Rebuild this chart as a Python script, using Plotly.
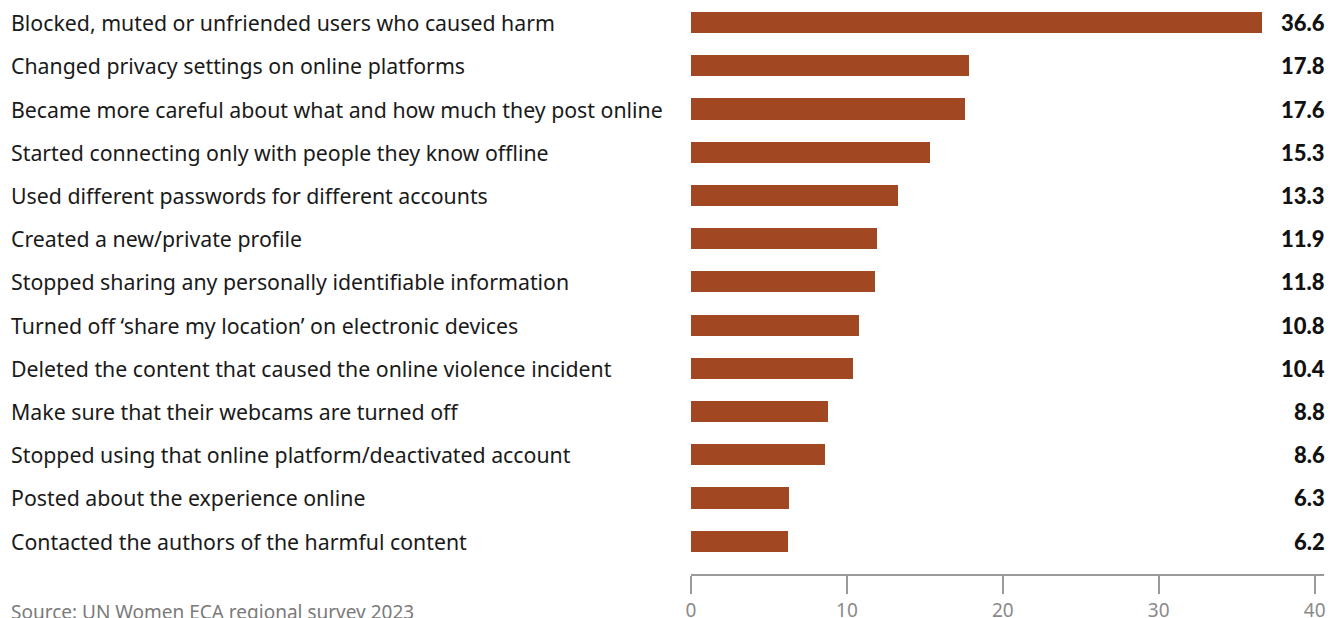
import plotly.graph_objects as go

# Actions taken after experiencing online violence (% of respondents)
actions = [
    "Blocked, muted or unfriended users who caused harm",
    "Changed privacy settings on online platforms",
    "Became more careful about what and how much they post online",
    "Started connecting only with people they know offline",
    "Used different passwords for different accounts",
    "Created a new/private profile",
    "Stopped sharing any personally identifiable information",
    "Turned off \u2018share my location\u2019 on electronic devices",
    "Deleted the content that caused the online violence incident",
    "Make sure that their webcams are turned off",
    "Stopped using that online platform/deactivated account",
    "Posted about the experience online",
    "Contacted the authors of the harmful content",
]
shares = [36.6, 17.8, 17.6, 15.3, 13.3, 11.9, 11.8, 10.8, 10.4, 8.8, 8.6, 6.3, 6.2]
x_ticks = [0, 10, 20, 30, 40]
source_note = "Source: UN Women ECA regional survey 2023"

BAR_COLOR = "#A14823"
LABEL_FONT = "Noto Sans"
positions = list(range(len(actions)))

fig = go.Figure(
    go.Bar(
        x=shares,
        y=positions,
        orientation="h",
        marker=dict(color=BAR_COLOR, line=dict(width=0)),
        width=0.49,
        hoverinfo="skip",
    )
)

left_px, right_px = 691, 1324
plot_w = right_px - left_px

annotations = []
for pos, label, val in zip(positions, actions, shares):
    annotations.append(dict(
        x=(9 - left_px) / plot_w, xref="paper", xanchor="left",
        y=pos, yref="y", yanchor="middle",
        text=label, showarrow=False,
        font=dict(family=LABEL_FONT, size=21.3, color="#1a1a1a"),
    ))
    annotations.append(dict(
        x=(1327 - left_px) / plot_w, xref="paper", xanchor="right",
        y=pos, yref="y", yanchor="middle",
        text=f"{val:.1f}", showarrow=False,
        font=dict(family="Lato", size=22, color="#111111", weight=900),
    ))

annotations.append(dict(
    x=(9 - left_px) / plot_w, xref="paper", xanchor="left",
    y=0, yref="paper", yanchor="top", yshift=-23,
    text=source_note, showarrow=False,
    font=dict(family=LABEL_FONT, size=19, color="#7a7a7a"),
))

fig.update_layout(
    width=1343, height=618,
    margin=dict(l=left_px, r=1343 - right_px, t=1, b=44, autoexpand=False),
    paper_bgcolor="white", plot_bgcolor="white",
    showlegend=False,
    bargap=0,
    annotations=annotations,
    xaxis=dict(
        range=[0, 40.6], tickvals=x_ticks,
        showgrid=False, zeroline=False,
        showline=True, linecolor="#9a9a9a", linewidth=1.5,
        ticks="outside", ticklen=18, tickwidth=1.5, tickcolor="#9a9a9a",
        tickfont=dict(family=LABEL_FONT, size=19, color="#8a8a8a"),
        ticklabelstandoff=0,
        automargin=False,
        fixedrange=True,
    ),
    yaxis=dict(
        range=[12.76, -0.5],
        showticklabels=False, showgrid=False, zeroline=False,
        showline=False, ticks="",
        automargin=False,
        fixedrange=True,
    ),
)

fig.write_html("out.html")
